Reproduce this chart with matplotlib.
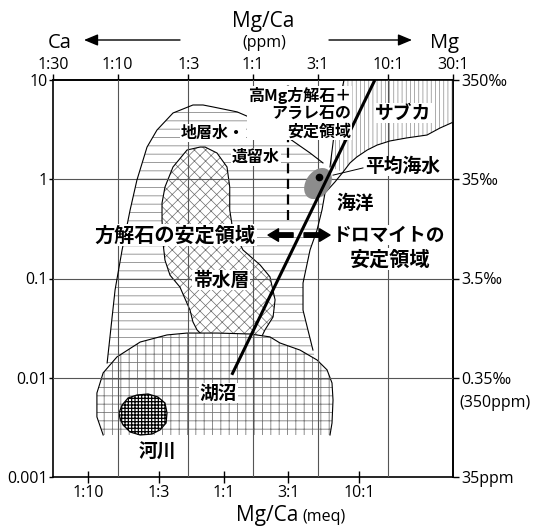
import matplotlib
matplotlib.use("Agg")
import matplotlib.pyplot as plt
import matplotlib.transforms as mtransforms
from matplotlib.patches import Polygon, Ellipse, FancyArrowPatch
from matplotlib.ticker import NullLocator

LATIN = ["Open Sans", "DejaVu Sans"]
JP = ["Noto Sans CJK JP", "DejaVu Sans"]
plt.rcParams["font.family"] = LATIN
plt.rcParams["hatch.linewidth"] = 0.6

# Mg/Ca by weight -> Mg/Ca in equivalents
MG_MASS, CA_MASS = 24.305, 40.078
PPM_TO_MEQ = CA_MASS / MG_MASS

# ---- axes ticks -----------------------------------------------------------
meq_ticks = [1 / 10, 1 / 3, 1, 3, 10]
meq_labels = ["1:10", "1:3", "1:1", "3:1", "10:1"]
ppm_ticks = [1 / 30, 1 / 10, 1 / 3, 1, 3, 10, 30]
ppm_labels = ["1:30", "1:10", "1:3", "1:1", "3:1", "10:1", "30:1"]
conc_ticks = [0.001, 0.01, 0.1, 1, 10]
conc_labels = ["0.001", "0.01", "0.1", "1", "10"]
salinity_labels = ["35ppm", "0.35‰", "3.5‰", "35‰", "350‰"]

# ---- water bodies: (Mg/Ca meq ratio, concentration) ------------------------
# formation / connate water, outer (left + upper) boundary
formation_ratio = [0.138, 0.158, 0.178, 0.204, 0.229, 0.272, 0.322, 0.423,
                   0.594, 0.705, 0.836, 1.26, 1.95, 2.94, 4.35, 5.42]
formation_conc = [0.0141, 0.077, 0.194, 0.49, 0.98, 2.11, 3.13, 4.65,
                  5.60, 5.60, 5.35, 4.77, 3.69, 2.67, 1.84, 1.46]
# closing points of the formation water field (under the lake field)
formation_base_ratio = [4.9, 0.16]
formation_base_conc = [0.013, 0.012]

# sabkha lower edge, continuing as the sea-water / formation-water border
ocean_ratio = [50.0, 39.6, 31.8, 22.6, 16.9, 13.6, 11.5, 9.66, 8.58, 7.62,
               6.65, 5.61, 5.33, 4.90, 4.35, 3.86, 3.86, 4.57]
ocean_conc = [3.78, 3.28, 2.79, 2.61, 2.43, 2.21, 1.97, 1.68, 1.46, 1.18,
              0.94, 0.727, 0.49, 0.308, 0.194, 0.090, 0.048, 0.019]

# sabkha left edge (bottom to top)
sabkha_ratio = [6.11, 6.54, 7.00, 7.75]
sabkha_conc = [1.33, 2.79, 5.23, 10.0]
sabkha_corner_ratio = [50.0]
sabkha_corner_conc = [10.0]

# aquifer
aquifer_ratio = [0.670, 0.537, 0.423, 0.369, 0.351, 0.351, 0.357, 0.369,
                 0.402, 0.476, 0.565, 0.594, 0.637, 0.754, 1.86, 2.02, 2.32,
                 2.40, 2.20, 1.86, 1.39, 1.17, 1.11, 1.11, 1.06, 0.893, 0.730]
aquifer_conc = [2.11, 1.97, 1.33, 0.835, 0.576, 0.388, 0.228, 0.153,
                0.108, 0.082, 0.048, 0.0365, 0.0303, 0.024, 0.024, 0.0303,
                0.041, 0.061, 0.104, 0.137, 0.194, 0.308, 0.490, 0.835,
                1.33, 1.84, 2.11]

# lakes
lake_ratio = [0.129, 0.116, 0.116, 0.129, 0.163, 0.242, 0.382, 0.537,
              0.893, 1.57, 2.20, 2.61, 3.67, 4.90, 5.81, 6.32, 6.43, 6.32,
              6.11]
lake_conc = [0.00265, 0.00403, 0.00702, 0.0112, 0.0162, 0.0229, 0.0270,
             0.0282, 0.0282, 0.0276, 0.0258, 0.0224, 0.0190, 0.0151,
             0.0120, 0.00886, 0.00597, 0.00350, 0.00265]

# rivers
river_ratio = [0.169, 0.178, 0.197, 0.229, 0.277, 0.327, 0.369, 0.382,
               0.376, 0.339, 0.296, 0.242, 0.204, 0.181, 0.172]
river_conc = [0.00442, 0.00531, 0.00625, 0.00670, 0.00686, 0.00640,
              0.00557, 0.00442, 0.00350, 0.00298, 0.00271, 0.00265,
              0.00284, 0.00334, 0.00384]

# mean sea water
seawater_ratio, seawater_conc = 5.07, 1.05
seawater_field_ratio, seawater_field_conc = 4.98, 0.905

# calcite / dolomite boundary
boundary_ratio = [1.15, 13.1]
boundary_conc = [0.0107, 10.0]

# high-Mg calcite + aragonite limit
limit_ratio = 3.0
limit_conc = [0.39, 8.9]


def xy(rs, cs):
    return list(zip(rs, cs))


def hatched(ax, pts, hatch, color, z, lw=0.6):
    p = Polygon(pts, closed=True, facecolor="white", edgecolor=color,
                hatch=hatch, linewidth=0, zorder=z)
    try:
        p.set_hatch_linewidth(lw)
    except AttributeError:
        pass
    ax.add_patch(p)
    return p


W, H = 539, 528
fig = plt.figure(figsize=(W / 100, H / 100), dpi=100)
ax = fig.add_axes([53 / W, 1 - 477 / H, 400 / W, 397 / H])
ax.set_xscale("log")
ax.set_yscale("log")
ax.set_xlim(ppm_ticks[0] * PPM_TO_MEQ, ppm_ticks[-1] * PPM_TO_MEQ)
ax.set_ylim(conc_ticks[0], conc_ticks[-1])

# ---- fields ---------------------------------------------------------------
fw_pts = (xy(formation_ratio, formation_conc)
          + xy(ocean_ratio[10:], ocean_conc[10:])
          + xy(formation_base_ratio, formation_base_conc))
hatched(ax, fw_pts, "--", "#8a8a8a", 1)

sab_pts = (xy(sabkha_corner_ratio, sabkha_corner_conc)
           + xy(ocean_ratio[:10], ocean_conc[:10])
           + xy(sabkha_ratio, sabkha_conc))
hatched(ax, sab_pts, "||||", "#8a8a8a", 1, 0.5)

hatched(ax, xy(aquifer_ratio, aquifer_conc), "xxx", "#6a6a6a", 2, 0.5)
ax.add_patch(Polygon(xy(aquifer_ratio, aquifer_conc), closed=True,
                     fill=False, edgecolor="black", lw=0.8, zorder=2.1))

hatched(ax, xy(lake_ratio, lake_conc), "++", "#7a7a7a", 3, 0.6)
ax.plot(lake_ratio, lake_conc, color="black", lw=0.8, zorder=3.1)

hatched(ax, xy(river_ratio, river_conc), "+++++", "black", 3.5, 0.9)
ax.add_patch(Polygon(xy(river_ratio, river_conc), closed=True, fill=False,
                     edgecolor="black", lw=0.9, zorder=3.6))

# outlines
ax.plot(formation_ratio, formation_conc, color="black", lw=0.8, zorder=4.5)
ax.plot(ocean_ratio, ocean_conc, color="black", lw=0.8, zorder=4.5)
ax.plot(sabkha_ratio, sabkha_conc, color="black", lw=0.8, zorder=4.5)

# grid
for t in ppm_ticks[1:-1]:
    ax.axvline(t * PPM_TO_MEQ, color="#555555", lw=0.8, zorder=4)
for c in conc_ticks[1:-1]:
    ax.axhline(c, color="#555555", lw=0.8, zorder=4)

# mean sea water
blob = Ellipse((0, 0), width=34, height=24, angle=55, facecolor="#8c8c8c",
               edgecolor="none", zorder=5,
               transform=mtransforms.ScaledTranslation(
                   seawater_field_ratio, seawater_field_conc, ax.transData))
ax.add_patch(blob)
ax.plot([seawater_ratio], [seawater_conc], "o", color="black", ms=4.5,
        zorder=6)
ax.plot([6.43, 10.7], [1.10, 1.30], color="black", lw=0.7, zorder=5)

# boundaries
ax.plot(boundary_ratio, boundary_conc, color="black", lw=2.2, zorder=6,
        solid_capstyle="butt")
ax.plot([limit_ratio, limit_ratio], limit_conc, color="black", lw=1.6,
        linestyle=(0, (4.5, 2.5)), zorder=5.5)

# stability arrows
arrow_kw = dict(arrowstyle="simple,head_length=0.75,head_width=0.9,tail_width=0.32",
                facecolor="black", edgecolor="black", shrinkA=0, shrinkB=0)
ax.annotate("", xy=(2.13, 0.274), xytext=(3.26, 0.274),
            arrowprops=arrow_kw, zorder=7)
ax.annotate("", xy=(6.11, 0.274), xytext=(3.93, 0.274),
            arrowprops=arrow_kw, zorder=7)

# ---- labels ---------------------------------------------------------------
box = dict(facecolor="white", edgecolor="none", pad=0.6)


def label(x, y, s, size, ha="center", **kw):
    ax.text(x, y, s, family=JP, fontsize=size, fontweight="bold", ha=ha,
            va="center", bbox=box, zorder=8, **kw)


label(8.7, 4.65, "高Mg方解石＋\nアラレ石の\n安定領域", 11.5, ha="right",
      multialignment="right", linespacing=1.15)
label(0.836, 2.92, "地層水・", 11.5)
label(1.73, 1.68, "遺留水", 11.5)
label(21.1, 4.65, "サブカ", 13.5)
label(21.1, 1.36, "平均海水", 13.5)
label(9.33, 0.576, "海洋", 13.5)
label(0.957, 0.0966, "帯水層", 13.5)
label(0.91, 0.00702, "湖沼", 13.5)
label(0.327, 0.00179, "河川", 13.5)
label(1.73, 0.274, "方解石の安定領域", 14.5, ha="right")
label(6.43, 0.274, "ドロマイトの", 13.5, ha="left")
label(16.9, 0.157, "安定領域", 14.5)

# ---- axes decoration ------------------------------------------------------
for s in ax.spines.values():
    s.set_linewidth(1.2)

ax.set_xticks(meq_ticks, meq_labels)
ax.xaxis.set_minor_locator(NullLocator())
ax.tick_params(axis="x", direction="inout", length=8, width=1,
               labelsize=11.5, pad=2)
ax.set_yticks(conc_ticks, conc_labels)
ax.yaxis.set_minor_locator(NullLocator())
ax.tick_params(axis="y", direction="out", length=3, width=1,
               labelsize=11.5, pad=1)

top = ax.secondary_xaxis("top")
top.set_xticks([t * PPM_TO_MEQ for t in ppm_ticks], ppm_labels)
top.xaxis.set_minor_locator(NullLocator())
top.tick_params(direction="out", length=4, width=1, labelsize=11.5, pad=1)
top.spines["top"].set_linewidth(1.2)

right = ax.secondary_yaxis("right")
right.set_yticks(conc_ticks, salinity_labels)
right.yaxis.set_minor_locator(NullLocator())
right.tick_params(direction="out", length=4, width=1, labelsize=11.5, pad=2)
right.spines["right"].set_linewidth(1.2)
ax.annotate("(350ppm)", xy=(1, conc_ticks[1]),
            xycoords=("axes fraction", "data"), xytext=(6, -25),
            textcoords="offset pixels", ha="left", va="center",
            fontsize=11.5)

# header and axis titles
fig.text(263 / W, 1 - 27 / H, "Mg/Ca", ha="center", va="baseline",
         fontsize=15)
fig.text(264 / W, 1 - 43 / H, "(ppm)", ha="center", va="center",
         fontsize=11.5)
fig.text(60 / W, 1 - 43 / H, "Ca", ha="center", va="center", fontsize=14.5)
fig.text(444 / W, 1 - 43 / H, "Mg", ha="center", va="center", fontsize=14.5)
head_kw = dict(arrowstyle="-|>,head_length=0.6,head_width=0.25", lw=1.0,
               color="black", shrinkA=0, shrinkB=0)
fig.add_artist(FancyArrowPatch(
    (180 / W, 1 - 40 / H), (84 / W, 1 - 40 / H),
    transform=fig.transFigure, mutation_scale=14, **head_kw))
fig.add_artist(FancyArrowPatch(
    (329 / W, 1 - 40 / H), (412 / W, 1 - 40 / H),
    transform=fig.transFigure, mutation_scale=14, **head_kw))

fig.text(236 / W, 1 - 521 / H, "Mg/Ca", ha="left", va="baseline",
         fontsize=15)
fig.text(302 / W, 1 - 521 / H, "(meq)", ha="left", va="baseline",
         fontsize=11.5)

fig.savefig("out.png", dpi=100)
